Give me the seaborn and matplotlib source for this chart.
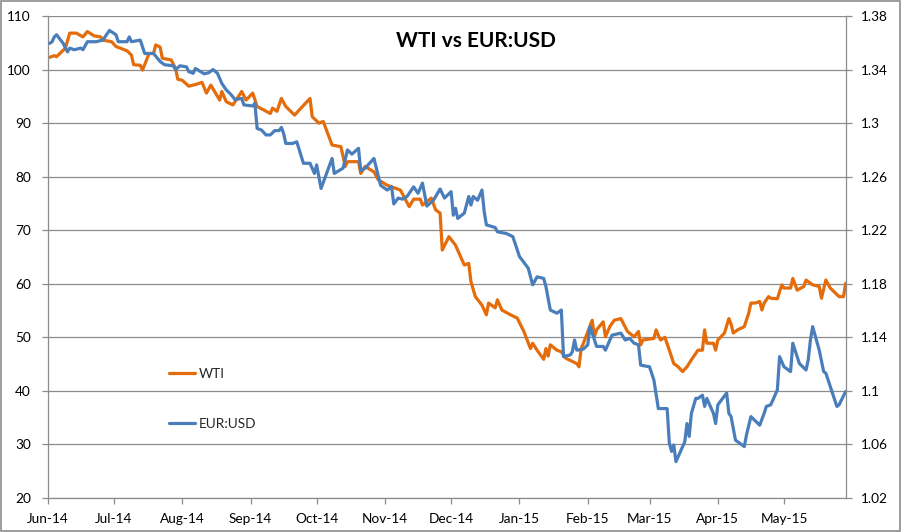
import matplotlib
matplotlib.use("Agg")
import matplotlib.pyplot as plt
import matplotlib.dates as mdates
from matplotlib.patches import Rectangle
from matplotlib.ticker import FixedLocator, FuncFormatter
import pandas as pd
import seaborn as sns

# ---------------- data ----------------
title = "WTI vs EUR:USD"
series_names = ["WTI", "EUR:USD"]

wti_dates = [
    "2014-06-02", "2014-06-04", "2014-06-05", "2014-06-09", "2014-06-11", "2014-06-14", "2014-06-17",
    "2014-06-19", "2014-06-22", "2014-06-25", "2014-06-26", "2014-06-30", "2014-07-02", "2014-07-07",
    "2014-07-09", "2014-07-10", "2014-07-13", "2014-07-14", "2014-07-17", "2014-07-19", "2014-07-20",
    "2014-07-22", "2014-07-23", "2014-07-27", "2014-07-29", "2014-07-30", "2014-08-01", "2014-08-04",
    "2014-08-07", "2014-08-10", "2014-08-12", "2014-08-14", "2014-08-18", "2014-08-19", "2014-08-21",
    "2014-08-24", "2014-08-28", "2014-08-30", "2014-09-02", "2014-09-04", "2014-09-10", "2014-09-11",
    "2014-09-13", "2014-09-15", "2014-09-17", "2014-09-21", "2014-09-23", "2014-09-28", "2014-09-29",
    "2014-10-02", "2014-10-04", "2014-10-08", "2014-10-12", "2014-10-14", "2014-10-15", "2014-10-20",
    "2014-10-21", "2014-10-23", "2014-10-27", "2014-10-29", "2014-11-02", "2014-11-04", "2014-11-08",
    "2014-11-12", "2014-11-14", "2014-11-17", "2014-11-18", "2014-11-22", "2014-11-24", "2014-11-26",
    "2014-11-27", "2014-11-30", "2014-12-03", "2014-12-07", "2014-12-09", "2014-12-10", "2014-12-12",
    "2014-12-15", "2014-12-17", "2014-12-18", "2014-12-21", "2014-12-22", "2014-12-24", "2014-12-28",
    "2014-12-31", "2015-01-03", "2015-01-06", "2015-01-07", "2015-01-09", "2015-01-12", "2015-01-13",
    "2015-01-14", "2015-01-15", "2015-01-18", "2015-01-20", "2015-01-22", "2015-01-27", "2015-01-28",
    "2015-01-29", "2015-01-30", "2015-02-03", "2015-02-04", "2015-02-05", "2015-02-08", "2015-02-09",
    "2015-02-11", "2015-02-13", "2015-02-16", "2015-02-19", "2015-02-22", "2015-02-24", "2015-02-25",
    "2015-02-26", "2015-03-03", "2015-03-04", "2015-03-05", "2015-03-06", "2015-03-08", "2015-03-10",
    "2015-03-12", "2015-03-14", "2015-03-16", "2015-03-18", "2015-03-20", "2015-03-23", "2015-03-25",
    "2015-03-26", "2015-03-27", "2015-03-30", "2015-03-31", "2015-04-01", "2015-04-04", "2015-04-06",
    "2015-04-07", "2015-04-08", "2015-04-10", "2015-04-13", "2015-04-15", "2015-04-16", "2015-04-18",
    "2015-04-20", "2015-04-21", "2015-04-22", "2015-04-24", "2015-04-25", "2015-04-28", "2015-04-30",
    "2015-05-01", "2015-05-04", "2015-05-05", "2015-05-07", "2015-05-10", "2015-05-11", "2015-05-14",
    "2015-05-17", "2015-05-18", "2015-05-20", "2015-05-22", "2015-05-26", "2015-05-28", "2015-05-29",
]
wti_values = [
    102.3, 102.6, 102.4, 104.0, 106.8, 106.8, 106.1,
    107.1, 106.3, 106.1, 105.5, 105.2, 104.3, 103.5,
    102.7, 100.9, 100.8, 99.9, 103.0, 103.0, 104.6,
    104.2, 102.1, 101.8, 100.2, 98.2, 98.0, 96.9,
    97.2, 97.6, 95.6, 97.1, 94.3, 95.9, 94.0,
    93.4, 95.9, 94.3, 95.6, 93.1, 91.8, 92.8,
    92.2, 94.6, 93.1, 91.5, 92.4, 94.6, 91.2,
    90.0, 90.3, 85.9, 85.6, 81.9, 82.8, 82.8,
    80.6, 81.9, 80.9, 79.4, 78.4, 78.1, 77.5,
    74.4, 75.8, 75.8, 74.7, 76.0, 73.8, 73.2,
    66.3, 68.8, 67.2, 63.5, 63.8, 60.4, 57.6,
    56.0, 54.2, 56.4, 55.5, 57.0, 55.1, 54.2,
    53.6, 51.1, 47.9, 48.9, 47.6, 45.9, 47.9,
    46.5, 48.6, 47.6, 47.3, 46.1, 45.1, 44.5,
    47.9, 48.9, 53.2, 50.1, 51.4, 52.9, 50.1,
    52.0, 53.2, 53.5, 51.1, 50.1, 51.1, 48.6,
    49.5, 49.8, 51.4, 50.4, 49.5, 50.0, 47.6,
    45.1, 44.5, 43.6, 44.5, 45.8, 47.6, 47.6,
    51.4, 48.9, 48.9, 47.6, 49.5, 50.8, 53.5,
    52.5, 50.8, 51.4, 52.0, 54.5, 56.4, 56.4,
    56.7, 55.1, 56.4, 57.6, 57.3, 57.2, 59.8,
    59.2, 59.2, 61.0, 58.8, 59.5, 60.7, 59.8,
    59.5, 57.3, 60.7, 59.2, 57.6, 57.6, 60.1,
]

eur_dates = [
    "2014-06-02", "2014-06-03", "2014-06-04", "2014-06-05", "2014-06-08", "2014-06-10", "2014-06-11",
    "2014-06-13", "2014-06-16", "2014-06-17", "2014-06-19", "2014-06-23", "2014-06-26", "2014-06-29",
    "2014-07-02", "2014-07-03", "2014-07-07", "2014-07-08", "2014-07-09", "2014-07-13", "2014-07-15",
    "2014-07-19", "2014-07-22", "2014-07-24", "2014-07-28", "2014-07-29", "2014-07-31", "2014-08-03",
    "2014-08-04", "2014-08-06", "2014-08-07", "2014-08-11", "2014-08-13", "2014-08-15", "2014-08-17",
    "2014-08-19", "2014-08-21", "2014-08-23", "2014-08-25", "2014-08-28", "2014-08-29", "2014-09-02",
    "2014-09-03", "2014-09-04", "2014-09-06", "2014-09-08", "2014-09-10", "2014-09-12", "2014-09-14",
    "2014-09-15", "2014-09-16", "2014-09-17", "2014-09-20", "2014-09-22", "2014-09-25", "2014-09-28",
    "2014-09-30", "2014-10-01", "2014-10-03", "2014-10-08", "2014-10-09", "2014-10-13", "2014-10-15",
    "2014-10-17", "2014-10-20", "2014-10-21", "2014-10-23", "2014-10-27", "2014-10-30", "2014-11-02",
    "2014-11-04", "2014-11-05", "2014-11-07", "2014-11-09", "2014-11-11", "2014-11-14", "2014-11-16",
    "2014-11-18", "2014-11-20", "2014-11-23", "2014-11-26", "2014-11-28", "2014-12-01", "2014-12-02",
    "2014-12-03", "2014-12-04", "2014-12-07", "2014-12-09", "2014-12-10", "2014-12-11", "2014-12-13",
    "2014-12-15", "2014-12-16", "2014-12-17", "2014-12-21", "2014-12-22", "2014-12-26", "2014-12-29",
    "2015-01-01", "2015-01-05", "2015-01-07", "2015-01-09", "2015-01-12", "2015-01-13", "2015-01-15",
    "2015-01-18", "2015-01-20", "2015-01-21", "2015-01-24", "2015-01-25", "2015-01-26", "2015-01-27",
    "2015-01-30", "2015-02-01", "2015-02-02", "2015-02-03", "2015-02-05", "2015-02-08", "2015-02-09",
    "2015-02-12", "2015-02-16", "2015-02-18", "2015-02-20", "2015-02-22", "2015-02-24", "2015-02-25",
    "2015-03-01", "2015-03-03", "2015-03-05", "2015-03-09", "2015-03-10", "2015-03-11", "2015-03-12",
    "2015-03-13", "2015-03-17", "2015-03-18", "2015-03-19", "2015-03-20", "2015-03-22", "2015-03-23",
    "2015-03-25", "2015-03-26", "2015-03-27", "2015-03-30", "2015-03-31", "2015-04-01", "2015-04-05",
    "2015-04-06", "2015-04-07", "2015-04-09", "2015-04-12", "2015-04-13", "2015-04-14", "2015-04-16",
    "2015-04-20", "2015-04-22", "2015-04-23", "2015-04-25", "2015-04-28", "2015-04-29", "2015-05-01",
    "2015-05-04", "2015-05-05", "2015-05-08", "2015-05-11", "2015-05-12", "2015-05-13", "2015-05-14",
    "2015-05-17", "2015-05-19", "2015-05-20", "2015-05-25", "2015-05-26", "2015-05-29",
]
eur_values = [
    1.3596, 1.3608, 1.3644, 1.3660, 1.3596, 1.3532, 1.3560,
    1.3548, 1.3560, 1.3548, 1.3608, 1.3608, 1.3620, 1.3692,
    1.3660, 1.3608, 1.3608, 1.3644, 1.3608, 1.3620, 1.3520,
    1.3520, 1.3460, 1.3436, 1.3428, 1.3400, 1.3428, 1.3420,
    1.3384, 1.3372, 1.3408, 1.3368, 1.3376, 1.3400, 1.3372,
    1.3296, 1.3248, 1.3216, 1.3176, 1.3184, 1.3136, 1.3128,
    1.3148, 1.2960, 1.2948, 1.2912, 1.2912, 1.2944, 1.2944,
    1.2968, 1.2924, 1.2848, 1.2848, 1.2860, 1.2700, 1.2700,
    1.2624, 1.2688, 1.2512, 1.2736, 1.2624, 1.2664, 1.2800,
    1.2768, 1.2812, 1.2644, 1.2664, 1.2736, 1.2536, 1.2500,
    1.2524, 1.2396, 1.2440, 1.2432, 1.2452, 1.2524, 1.2476,
    1.2552, 1.2380, 1.2424, 1.2508, 1.2440, 1.2488, 1.2312,
    1.2364, 1.2288, 1.2328, 1.2452, 1.2388, 1.2452, 1.2424,
    1.2500, 1.2340, 1.2240, 1.2220, 1.2188, 1.2176, 1.2152,
    1.2004, 1.1916, 1.1792, 1.1852, 1.1840, 1.1780, 1.1604,
    1.1580, 1.1604, 1.1256, 1.1268, 1.1292, 1.1380, 1.1304,
    1.1312, 1.1344, 1.1480, 1.1432, 1.1332, 1.1332, 1.1304,
    1.1416, 1.1432, 1.1380, 1.1392, 1.1356, 1.1344, 1.1192,
    1.1180, 1.1080, 1.0868, 1.0868, 1.0608, 1.0548, 1.0596,
    1.0472, 1.0620, 1.0756, 1.0660, 1.0832, 1.0944, 1.0944,
    1.0968, 1.0884, 1.0944, 1.0832, 1.0756, 1.0896, 1.0984,
    1.0832, 1.0808, 1.0632, 1.0596, 1.0584, 1.0672, 1.0808,
    1.0744, 1.0832, 1.0884, 1.0896, 1.1008, 1.1256, 1.1180,
    1.1144, 1.1356, 1.1204, 1.1156, 1.1232, 1.1380, 1.1480,
    1.1304, 1.1144, 1.1132, 1.0884, 1.0896, 1.0996,
]

left_ticks = [20, 30, 40, 50, 60, 70, 80, 90, 100, 110]
right_ticks = [1.02, 1.06, 1.10, 1.14, 1.18, 1.22, 1.26, 1.30, 1.34, 1.38]
x_start, x_end = "2014-06-01", "2015-05-29"

# ---------------- styling ----------------
sns.set_style("white")
plt.rcParams["font.family"] = ["Lato", "DejaVu Sans"]

wti_color = "#E46C0A"
eur_color = "#4A7EBB"
grid_color = "#8C8C8C"
tick_fs = 9.8

wti_df = pd.DataFrame({"date": pd.to_datetime(wti_dates), "value": wti_values})
eur_df = pd.DataFrame({"date": pd.to_datetime(eur_dates), "value": eur_values})

fig = plt.figure(figsize=(9.01, 5.32), dpi=100)
W, H = 901, 532
ax = fig.add_axes([47.7 / W, 1 - 498 / H, (845.7 - 47.7) / W, (498 - 16) / H])
ax2 = ax.twinx()

sns.lineplot(data=wti_df, x="date", y="value", ax=ax, color=wti_color, lw=2.3,
             estimator=None, sort=False, label=series_names[0], legend=False)
sns.lineplot(data=eur_df, x="date", y="value", ax=ax2, color=eur_color, lw=2.3,
             estimator=None, sort=False, label=series_names[1], legend=False)

ax.set_xlim(pd.Timestamp(x_start), pd.Timestamp(x_end))
ax.set_ylim(left_ticks[0], left_ticks[-1])
ax2.set_ylim(right_ticks[0], right_ticks[-1])
ax.yaxis.set_major_locator(FixedLocator(left_ticks))
ax2.yaxis.set_major_locator(FixedLocator(right_ticks))
ax2.yaxis.set_major_formatter(FuncFormatter(lambda v, p: f"{round(v, 2):g}"))
ax.xaxis.set_major_locator(mdates.MonthLocator())
ax.xaxis.set_major_formatter(mdates.DateFormatter("%b-%y"))

ax.set_xlabel("")
ax.set_ylabel("")
ax2.set_ylabel("")

ax.grid(axis="y", color=grid_color, lw=0.9)
ax.grid(axis="x", visible=False)
ax2.grid(False)

for a in (ax, ax2):
    a.spines["top"].set_visible(False)
    for side in ("left", "right", "bottom"):
        a.spines[side].set_color(grid_color)
        a.spines[side].set_linewidth(0.9)
    a.tick_params(axis="both", which="major", direction="out", length=4, width=0.9,
                  color=grid_color, labelsize=tick_fs, labelcolor="black", pad=4)
ax.tick_params(axis="y", left=True, right=False, pad=8)
ax.tick_params(axis="x", bottom=True, pad=7)
ax2.tick_params(axis="y", right=True, left=False, pad=7)
ax.spines["right"].set_visible(False)
ax2.spines["left"].set_visible(False)
ax2.spines["bottom"].set_visible(False)

fig.text(476 / W, 1 - 41 / H, title, ha="center", va="center",
         fontsize=15, fontweight="bold", color="black")

handles = ax.get_lines()[:1] + ax2.get_lines()[:1]
leg = ax2.legend(handles, series_names, loc="upper left",
                 bbox_to_anchor=(169 / W, 1 - 368 / H), bbox_transform=fig.transFigure,
                 frameon=False, fontsize=tick_fs, handlelength=1.9, handletextpad=0.3,
                 labelspacing=2.8, borderpad=0, borderaxespad=0)

fig.add_artist(Rectangle((0.001, 0.001), 0.998, 0.997, transform=fig.transFigure,
                         fill=False, edgecolor="#8C8C8C", lw=1.2))

fig.savefig("out.png", dpi=100)
